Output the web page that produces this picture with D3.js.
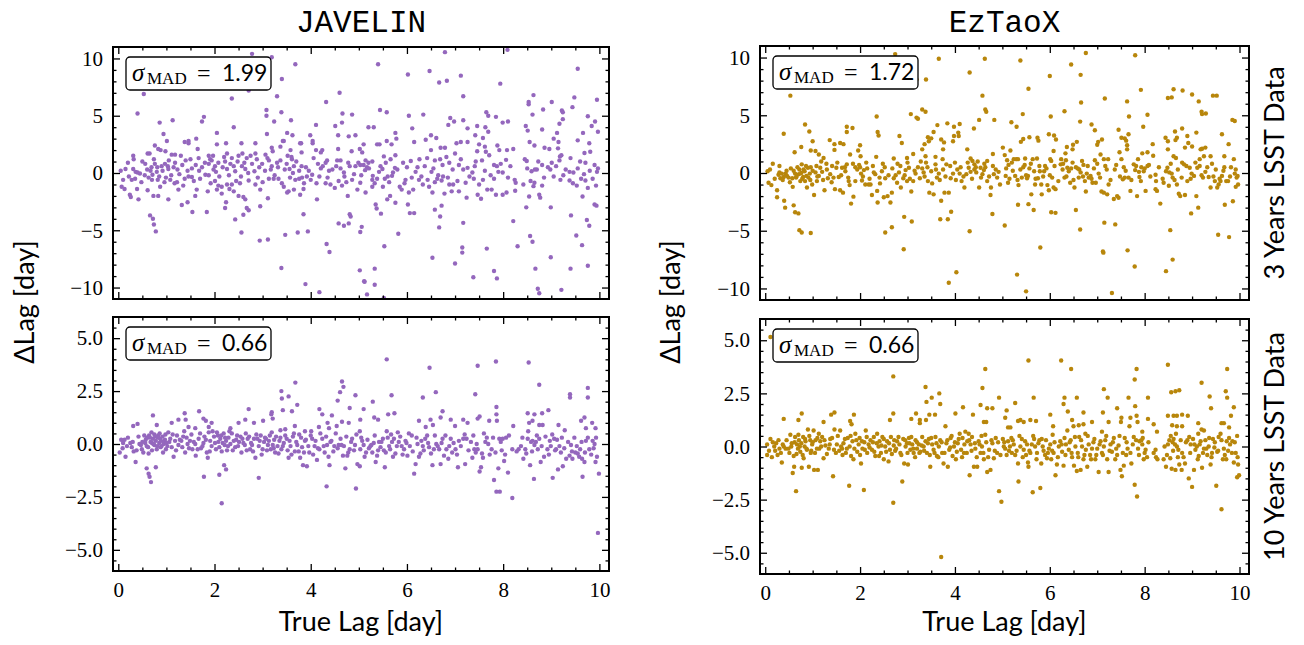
<!DOCTYPE html>
<meta charset="utf-8">
<style>
  body { margin: 0; background: #fff; }
  .tick line { stroke: #000; stroke-width: 1.3px; }
  .title { font: 31px "Liberation Mono", monospace; text-anchor: middle; }
  .label { font: 27px Lato, sans-serif; text-anchor: middle; }
</style>
<svg width="1304" height="645"></svg>
<script src="https://d3js.org/d3.v7.min.js"></script>
<script>
// methods / rows / annotations
var methods = ["JAVELIN", "EzTaoX"];
var baselines = ["3 Years LSST Data", "10 Years LSST Data"];
var sigmaJavelin = ["1.99", "0.66"];
var sigmaEztaox = ["1.72", "0.66"];
var xTicks = [0, 2, 4, 6, 8, 10];
var yTicks3 = [-10, -5, 0, 5, 10];
var yTicks10 = [-5, -2.5, 0, 2.5, 5];

// [true lag, delta lag]
var javelin3yr = [
[2.78,10.4],[3.19,10.1],[3.68,9.5],[2.71,7.2],[0.53,6.9],[3.40,8.2],[0.40,5.2],[2.36,6.5],[3.30,6.7],[3.08,5.5],[3.39,5.3],[3.08,5.0],[3.24,4.5],[3.59,4.6],[4.32,6.2],[4.60,7.0],[4.66,5.2],[4.86,5.1],[4.51,4.1],[4.65,4.4],[4.11,4.2],[0.86,4.4],[1.13,4.6],[1.78,4.9],[1.74,4.5],[2.40,4.0],[0.94,3.4],[1.01,2.8],[2.05,3.5],[1.62,3.0],[1.46,2.8],[1.38,2.7],[2.85,2.6],[3.09,3.4],[3.51,3.5],[3.62,3.3],[3.44,2.8],[3.99,3.3],[4.04,2.8],[4.93,3.3],[4.79,3.2],[4.57,3.3],[3.80,2.6],
[0.76,2.4],[0.83,2.1],[0.88,2.0],[0.65,1.7],[0.61,1.7],[0.31,1.5],[0.32,1.2],[0.98,1.9],[1.11,1.6],[1.18,1.6],[1.30,1.5],[1.46,2.6],[1.65,2.1],[1.67,1.3],[1.88,1.5],[1.97,1.5],[1.91,1.2],[2.05,2.5],[2.24,2.6],[2.26,1.7],[2.36,1.3],[2.56,2.6],[2.58,1.7],[2.50,1.5],[2.67,1.3],[2.85,1.7],[2.88,1.2],[3.19,2.2],[3.21,1.9],[3.06,1.6],[3.37,2.3],[3.42,2.8],[3.58,2.0],[3.61,1.2],[3.60,1.4],[3.78,2.6],[3.81,1.8],[4.04,2.6],[4.11,2.0],[4.24,2.0],[4.21,1.8],[4.34,1.1],[4.57,2.1],[4.55,1.1],[4.62,1.1],[4.85,1.9],[4.99,0.9],
[0.05,0.2],[0.15,0.35],[0.31,0.35],[0.40,0.05],[0.56,0.8],[0.69,0.5],[0.67,0.2],[0.76,0.8],[0.81,0.5],[0.90,0.6],[0.97,0.8],[1.03,0.6],[1.04,0.35],[1.18,0.9],[1.23,0.3],[1.40,1.1],[1.44,0.2],[1.53,0.4],[1.61,0.7],[1.74,0.5],[1.88,0.8],[1.94,1.1],[1.98,0.3],[2.01,0.6],[2.08,0.9],[2.22,1.0],[2.17,0.5],[2.26,0.35],[2.40,0.6],[2.43,0.15],[2.57,0.6],[2.64,0.35],[2.78,0.8],[2.83,0.15],[2.99,0.8],[3.13,1.1],[3.19,0.6],[3.17,0.3],[3.32,0.5],[3.37,1.1],[3.50,0.8],[3.56,0.35],[3.65,0.6],[3.76,0.2],[3.81,0.6],[3.96,0.2],[4.15,0.8],[4.21,0.4],[4.31,0.9],[4.38,0.2],[4.53,0.6],[4.69,0.05],[4.81,0.6],[4.93,0.6],
[0.07,-1.2],[0.13,-1.4],[0.28,-0.6],[0.35,-0.5],[0.45,-0.05],[0.39,-1.4],[0.63,-0.4],[0.71,-0.15],[0.82,-0.6],[0.87,-1.2],[0.96,-0.8],[1.08,-0.6],[1.17,-0.9],[1.22,-0.8],[1.38,-0.5],[1.46,-0.3],[1.53,-0.35],[1.63,-1.45],[1.81,-0.15],[1.88,-0.2],[2.01,-0.7],[2.08,-1.1],[2.15,-1.2],[2.26,-1.0],[2.31,-1.4],[2.36,-1.0],[2.53,-0.9],[2.71,-0.65],[2.85,-1.0],[2.95,-1.45],[3.13,-0.5],[3.23,-0.5],[3.33,-0.5],[3.44,-1.2],[3.54,-1.6],[3.68,-0.6],[3.76,-0.5],[3.82,-0.4],[3.92,-0.3],[4.03,-0.15],[4.12,-0.9],[4.31,-0.9],[4.41,-1.0],[4.58,-0.7],[4.65,-1.1],[4.74,-0.8],[4.86,-0.6],[4.97,-1.45],
[0.24,-1.9],[0.26,-2.1],[0.42,-2.3],[0.61,-1.5],[0.73,-2.0],[0.83,-2.0],[1.04,-2.3],[1.25,-1.45],[1.60,-2.0],[1.86,-1.6],[2.05,-1.45],[2.15,-1.8],[2.40,-1.6],[2.50,-2.0],[2.60,-2.1],[2.64,-2.3],[3.11,-2.2],[3.51,-1.7],[3.65,-1.45],[3.78,-1.9],[3.85,-1.4],[4.13,-2.3],[4.77,-2.0],
[1.32,-2.8],[1.44,-2.55],[1.54,-3.4],[1.84,-3.4],[2.22,-3.05],[2.43,-4.05],[2.24,-2.55],[2.67,-3.05],[2.71,-3.25],[2.60,-3.65],[2.95,-2.9],[2.56,-5.2],[2.94,-5.9],[3.11,-5.8],[3.47,-5.4],[3.73,-5.2],[3.94,-5.1],[3.85,-3.6],[0.66,-3.7],[0.72,-4.0],[0.74,-4.5],[0.78,-5.1],[4.33,-6.2],[4.39,-6.9],[3.39,-8.3],[3.89,-9.7],[4.18,-10.4],[4.79,-4.4],[4.81,-3.6],[4.83,-3.8],[4.58,-4.4],[4.69,-4.6],
[8.09,10.75],[6.79,10.55],[5.40,9.5],[9.55,9.1],[6.02,8.6],[6.47,8.9],[7.12,8.5],[6.67,7.9],[6.83,8.05],[7.94,7.8],[7.17,6.7],[8.63,6.8],[9.01,6.2],[9.48,6.6],[9.95,6.4],[5.44,5.5],[5.58,5.3],[6.04,5.0],[6.34,5.1],[7.65,5.3],[7.69,5.0],[7.85,4.9],[8.10,4.5],[7.99,4.4],[8.53,6.2],[8.53,6.0],[8.61,5.1],[8.83,5.55],[9.22,5.45],[9.24,5.3],[9.24,4.7],[9.17,4.3],[9.44,5.75],[9.76,4.95],[9.91,4.5],[9.84,4.1],[9.97,3.6],[9.66,3.5],[9.55,2.85],[9.79,2.6],[6.90,4.8],[6.86,4.2],[6.98,4.5],[7.17,4.6],[7.26,3.9],[7.46,4.1],[7.63,4.0],[7.69,3.6],[7.58,3.05],[7.42,3.3],[5.20,4.0],[5.31,4.0],[6.11,3.9],[6.50,3.3],[6.61,3.05],[6.39,2.9],[5.76,3.5],[5.78,3.0],[5.58,2.8],[5.68,2.5],[5.38,2.5],[5.43,2.5],[5.10,2.5],[6.15,2.7],[6.70,2.2],[6.79,2.2],[7.03,2.6],[7.12,2.7],[7.26,2.7],[7.50,2.5],[7.62,2.3],[7.88,2.4],[7.92,2.0],[8.08,2.0],[8.21,2.1],[8.47,4.1],[8.51,3.7],[8.55,2.7],[8.65,2.4],[8.81,3.8],[8.86,2.2],[8.96,2.1],[9.05,3.0],[9.12,3.5],[9.15,2.7],[9.18,1.45],[9.21,1.55],[9.14,2.15],[9.40,1.3],[9.69,1.75],[9.81,1.85],
[5.02,2.1],[5.07,1.8],[5.14,1.1],[5.03,0.7],[5.10,0.7],[5.17,0.5],[5.28,1.0],[5.13,0.25],[5.21,0.4],[5.52,1.45],[5.66,1.2],[5.56,0.9],[5.75,0.45],[5.71,0.05],[5.49,0.35],[5.42,0.1],[5.76,1.55],[5.92,0.9],[6.08,1.05],[6.22,0.5],[6.26,1.2],[6.42,1.3],[6.50,2.0],[6.58,1.1],[6.51,0.1],[6.69,1.2],[6.82,1.4],[6.88,0.9],[7.0,1.7],[7.08,0.7],[7.17,0.3],[7.26,0.45],[7.36,0.05],[7.43,1.0],[7.46,1.9],[7.56,1.1],[7.64,1.85],[7.71,1.55],[7.81,0.7],[7.87,0.6],[7.90,0.1],[7.99,0.05],[8.06,1.15],[8.45,1.2],[8.49,1.05],[8.59,0.15],[8.66,0.3],[8.73,1.0],[8.81,0.7],[9.01,0.9],[8.98,0.3],[9.17,1.1],[9.38,0.1],[9.46,0.05],[9.60,1.0],[9.71,0.9],[9.90,0.7],[9.97,0.4],
[5.03,-0.85],[5.14,-1.7],[5.29,-0.25],[5.28,-0.6],[5.28,-1.2],[5.38,-0.5],[5.50,-1.2],[5.54,-0.5],[5.63,-0.8],[5.69,-0.25],[5.65,-2.0],[5.59,-2.3],[5.76,-2.6],[5.85,-1.2],[5.89,-1.45],[5.97,-0.6],[6.04,-1.7],[6.13,-1.45],[6.25,-0.6],[6.33,-1.0],[6.43,-0.6],[6.53,-1.7],[6.58,-0.8],[6.63,-0.5],[6.72,-0.65],[6.75,-0.3],[6.78,-1.8],[6.88,-1.0],[6.93,-1.6],[6.96,-1.0],[7.08,-1.6],[7.24,-2.15],[7.22,-0.85],[7.39,-0.5],[7.47,-1.9],[7.54,-2.25],[7.58,-0.6],[7.67,-1.45],[7.76,-1.45],[7.85,-1.9],[7.81,-0.5],[7.99,-1.9],[8.07,-1.7],[8.24,-0.6],[8.26,-0.85],[8.25,-1.55],[8.42,-1.0],[8.54,-2.05],[8.48,-3.0],[8.63,-1.15],[8.65,-0.85],[8.75,-1.9],[8.77,-2.15],[8.81,-1.1],[8.99,-3.0],[9.19,-0.6],[9.38,-0.65],[9.53,-1.1],[9.62,-0.5],[9.65,-2.05],[9.76,-1.3],[9.93,-1.1],[9.90,-2.75],[9.94,-2.85],[9.71,-0.65],
[5.35,-2.75],[5.37,-3.1],[5.46,-3.55],[6.02,-2.75],[6.06,-3.5],[6.15,-3.5],[6.58,-3.2],[6.69,-3.8],[6.72,-2.85],[6.67,-4.75],[5.06,-4.7],[5.03,-5.15],[5.82,-5.3],[5.53,-6.4],[6.53,-7.4],[7.17,-4.35],[7.15,-6.5],[7.15,-6.95],[7.0,-7.9],[7.66,-6.6],[7.38,-9.1],[7.81,-8.55],[7.87,-9.2],[8.21,-4.2],[8.30,-6.4],[8.56,-5.5],[8.61,-6.0],[8.67,-8.35],[8.72,-10.1],[8.75,-10.5],[8.99,-7.35],[9.21,-10.2],[9.41,-3.7],[9.52,-5.45],[9.64,-6.3],[9.74,-4.1],[9.79,-4.6],[9.76,-8.1],[9.40,-8.35],[5.11,-9.45],[5.12,-9.5],[5.33,-8.35],[5.33,-9.75],[5.17,-10.6],[5.52,-10.9],[5.02,-8.5],
[0.1,-0.6],[0.2,0.9],[0.22,-0.3],[0.36,0.1],[0.48,-0.8],[0.5,1.0],[0.55,-0.2],[0.6,0.3],[0.7,-0.6],[0.74,1.2],[0.8,0.1],[0.85,-0.3],[0.92,0.2],[0.99,-0.4],[1.05,1.1],[1.1,-0.2],[1.15,0.5],[1.27,-0.1],[1.33,0.7],[1.35,-1.1],[1.5,1.2],[1.57,-0.7],[1.68,0.2],[1.7,-0.5],[1.8,0.9],[1.92,-0.9],[2.03,0.1],[2.1,-0.3],[2.2,1.4],[2.3,-0.2],[2.33,0.8],[2.45,-0.7],[2.48,1.0],[2.55,-0.3],[2.62,0.9],[2.7,0.0],[2.75,1.5],[2.9,-0.4],[2.93,0.5],[3.0,-0.8],[3.05,0.2],[3.1,1.3],[3.25,-0.2],[3.3,0.9],[3.4,-0.9],[3.46,0.3],[3.52,1.5],[3.57,-0.4],[3.63,0.0],[3.7,1.0],[3.86,-0.9],[3.9,0.5],[4.0,-0.6],[4.06,1.3],[4.18,-0.3],[4.25,0.6],[4.35,-0.4],[4.45,0.3],[4.5,-1.3],[4.62,0.4],[4.7,-0.3],[4.78,0.9],[4.9,-0.1],[5.05,-0.2],[5.2,0.9],[5.33,-0.9],[5.45,0.6],[5.6,-0.3],[5.8,0.3],[5.95,-0.9],[6.0,0.5],[6.1,-0.4],[6.18,0.1],[6.3,-0.3],[6.37,0.6],[6.46,-1.2],[6.55,0.4],[6.65,-0.2],[6.74,0.7],[6.85,-0.4],[6.95,0.3],[7.05,-0.7],[7.12,1.2],[7.3,-0.3],[7.41,0.6],[7.5,-1.0],[7.62,0.2],[7.74,-0.2],[7.95,0.8],[8.1,-0.4],[8.15,0.6],[8.5,0.4],[8.57,-0.7],[8.7,0.3],[8.85,-0.4],[8.93,0.5],[9.05,-0.3],[9.1,0.6],[9.25,-0.2],[9.3,0.3],[9.45,-0.9],[9.55,0.4],[9.68,-0.1],[9.8,0.2],[9.86,-0.5],[9.95,0.1]
];

var javelin10yr = [
[3.68,2.9],[3.39,2.5],[3.40,2.15],[3.54,2.25],[3.72,1.85],[3.61,1.55],[3.42,1.6],[4.65,2.95],[4.68,2.7],[4.61,2.45],[4.93,2.3],[4.56,2.05],[4.81,1.7],[4.18,1.65],[2.71,1.65],[3.19,1.5],[1.68,1.55],[1.38,1.45],[0.72,1.35],[0.40,0.95],[0.31,0.85],[0.80,0.9],[1.11,1.0],[1.25,1.15],[1.40,1.15],[1.46,0.8],[1.60,0.75],[1.77,1.2],[1.82,1.1],[1.88,0.8],[1.94,1.0],[2.33,0.75],[2.50,1.0],[2.64,1.15],[2.82,1.0],[3.01,1.1],[3.18,1.4],[3.21,1.2],[3.37,0.65],[3.47,0.7],[3.67,0.85],[3.76,0.45],[3.88,0.6],[4.01,0.6],[4.17,0.8],[4.24,1.4],[4.35,1.0],[4.38,0.75],[4.44,1.35],[4.54,0.85],[4.65,1.05],[4.79,1.0],
[0.06,0.2],[0.13,0.2],[0.09,-0.2],[0.03,-0.4],[0.15,-0.6],[0.25,0.05],[0.28,-0.15],[0.32,-0.35],[0.36,-0.85],[0.44,0],[0.49,-0.25],[0.54,0.4],[0.57,0.2],[0.59,-0.1],[0.64,0.4],[0.67,0.1],[0.63,-0.45],[0.69,0.55],[0.72,0.25],[0.75,-0.05],[0.78,0.15],[0.80,-0.25],[0.83,0.4],[0.85,0.05],[0.87,0.25],[0.90,-0.1],[0.92,0.35],[0.94,0],[0.97,0.2],[0.99,-0.25],[1.04,0.55],[1.08,0.25],[1.11,-0.15],[1.15,-0.6],[1.18,0.15],[1.22,0.4],[1.25,-0.05],[1.31,0.15],[1.35,0.35],[1.39,-0.4],[1.44,0],[1.49,0.15],[1.54,-0.25],[1.60,0],[1.61,-0.55],[1.67,0.25],[1.72,-0.2],[1.77,0.05],[1.79,0.35],[1.84,-0.4],[1.88,0.55],[1.86,-0.65],[1.91,0.15],[1.94,-0.1],[1.99,0.35],[2.03,-0.25],[2.07,0.4],[2.08,0.1],[2.12,0.25],[2.15,-0.35],[2.19,0.5],[2.21,-0.05],[2.24,0.15],[2.26,-0.3],[2.29,0.3],[2.33,0],[2.36,0.5],[2.40,0.15],[2.43,-0.15],[2.47,0.4],[2.51,0.1],[2.56,-0.4],[2.58,0.25],[2.63,-0.05],[2.65,0.5],[2.69,0.25],[2.74,-0.25],[2.78,-0.05],[2.82,0.25],[2.85,-0.65],[2.89,0.25],[2.92,-0.1],[2.96,0.4],[3.00,-0.25],[3.03,0.1],[3.07,0.25],[3.11,-0.05],[3.15,0.4],[3.17,-0.25],[3.21,-0.05],[3.24,0.2],[3.26,-0.4],[3.31,-0.1],[3.35,0.15],[3.39,-0.25],[3.44,0.05],[3.50,0.25],[3.54,-0.65],[3.58,-0.1],[3.63,0.35],[3.67,-0.35],[3.72,-0.05],[3.78,-0.65],[3.82,-0.15],[3.88,0.15],[3.92,-1.05],[3.97,-0.4],[4.03,0.25],[4.08,-0.1],[4.13,-0.75],[4.18,-0.25],[4.24,0.25],[4.29,-0.4],[4.34,-0.05],[4.39,-1.0],[4.43,0.15],[4.49,-0.1],[4.58,-0.05],[4.64,-0.05],[4.69,-0.1],[4.72,-1.15],[4.76,-0.55],[4.81,-0.25],[4.86,0.25],[4.92,-0.05],[4.97,-0.95],
[0.70,0.05],[0.82,0.3],[0.88,-0.15],[0.95,0.1],[0.60,0.3],[0.75,0.45],[1.00,0.05],[0.50,0.1],
[0.59,-1.15],[0.63,-1.4],[0.65,-1.55],[0.68,-1.8],[0.78,-1.1],[1.78,-1.55],[2.10,-1.45],[2.15,-2.8],[2.20,-1.0],[2.24,-1.2],[2.92,-1.6],[3.84,-1.0],[4.33,-2.0],[4.94,-2.1],
[5.58,4.0],[6.47,3.6],[7.47,3.7],[7.85,3.9],[8.53,3.85],[8.75,2.8],[5.68,2.3],[6.33,2.2],[6.60,2.45],[7.42,2.35],[7.86,1.75],[9.39,2.35],[9.39,2.2],[9.76,2.65],[9.76,2.2],[5.29,2.0],[5.10,1.65],[5.03,1.15],[5.32,1.25],[5.40,1.15],[5.61,1.4],[5.74,1.45],[6.25,1.1],[6.49,1.15],[6.54,0.9],[6.39,0.8],[6.74,1.55],[6.70,1.25],[6.91,1.15],[7.0,0.85],[7.17,1.15],[7.26,1.0],[7.47,1.2],[7.51,1.3],[7.71,1.1],[7.86,1.4],[7.87,1.1],[8.21,0.85],[8.51,1.45],[8.65,1.4],[8.54,1.0],[8.61,1.1],[8.75,0.9],[8.81,1.45],[8.94,1.6],[8.82,0.9],[9.15,0.9],[9.28,0.65],[9.62,1.1],[9.69,1.25],[9.85,1.0],[9.72,0.75],[9.92,0.75],
[5.02,0.6],[5.07,0.15],[5.03,-0.25],[5.10,-0.05],[5.15,-0.4],[5.02,-1.05],[5.21,-0.2],[5.24,-0.1],[5.28,-0.4],[5.31,0.05],[5.35,-0.85],[5.38,-0.55],[5.42,0.1],[5.45,-0.15],[5.50,0.25],[5.52,-0.3],[5.54,-1.1],[5.60,0.3],[5.63,-0.1],[5.67,0.45],[5.69,0.1],[5.73,0.25],[5.76,-0.45],[5.81,0.55],[5.83,0.1],[5.89,-0.1],[5.94,-0.25],[5.97,0.15],[6.01,-0.55],[6.06,-0.1],[6.10,0.4],[6.15,-1.4],[6.18,-0.95],[6.22,0],[6.28,-0.45],[6.33,-0.1],[6.38,0.25],[6.42,0.4],[6.46,-0.15],[6.53,-1.0],[6.56,-0.25],[6.61,0],[6.67,-0.25],[6.70,-0.95],[6.74,0.25],[6.77,-0.55],[6.82,-0.25],[6.86,-0.7],[6.91,0.25],[6.94,-0.4],[7.01,-0.25],[7.06,-1.1],[7.08,0.15],[7.17,0.25],[7.21,-0.95],[7.24,0.25],[7.33,0.1],[7.36,-0.65],[7.40,-0.25],[7.43,-0.4],[7.47,-0.25],[7.51,-1.3],[7.54,-1.1],[7.58,-0.65],[7.63,0.1],[7.66,0.3],[7.69,0],[7.76,-0.25],[7.81,-1.7],[7.86,-2.25],[7.93,-2.25],[7.90,-1.15],[7.92,0.25],[7.95,0.1],[7.99,0.25],[8.02,-0.8],[8.06,0.3],[8.10,-1.35],[8.19,-2.55],[8.28,-0.35],[8.32,-0.25],[8.37,-0.1],[8.42,-0.7],[8.46,-0.25],[8.51,0.25],[8.56,-1.0],[8.58,0.1],[8.61,0.15],[8.64,-1.65],[8.65,-0.05],[8.68,0.1],[8.72,-0.25],[8.75,0.25],[8.78,-0.85],[8.85,-0.6],[8.92,-0.25],[8.97,0.15],[8.99,-0.1],[9.03,-1.6],[9.06,0.25],[9.10,-0.25],[9.14,-1.2],[9.17,-0.1],[9.20,-0.4],[9.24,-1.05],[9.31,-0.7],[9.38,-0.55],[9.41,-0.05],[9.44,-0.7],[9.50,-0.4],[9.55,-0.45],[9.60,-0.25],[9.64,-0.7],[9.65,-1.55],[9.69,-0.85],[9.72,0.15],[9.79,-0.25],[9.86,0.15],[9.90,0],[9.92,-0.85],[9.95,-0.6],[9.99,-1.4],[9.97,-4.2],[8.19,-0.25],
[0.1,0.05],[0.18,-0.1],[0.2,0.3],[0.3,0.1],[0.38,-0.3],[0.42,0.35],[0.47,-0.05],[0.52,-0.4],[0.56,0.05],[0.62,-0.15],[0.66,0.3],[0.7,-0.3],[0.73,0.0],[0.77,0.35],[0.81,-0.1],[0.86,0.5],[0.89,0.15],[0.93,-0.4],[0.98,0.45],[1.02,-0.1],[1.06,0.1],[1.13,0.45],[1.2,-0.3],[1.28,0.2],[1.33,-0.15],[1.37,0.6],[1.42,0.3],[1.47,-0.2],[1.52,0.45],[1.57,0.1],[1.65,-0.25],[1.7,0.5],[1.75,-0.1],[1.82,0.2],[1.9,-0.35],[1.96,0.6],[2.01,0.05],[2.05,0.55],[2.1,-0.15],[2.14,0.4],[2.17,0.05],[2.22,0.3],[2.28,-0.1],[2.31,0.6],[2.38,-0.3],[2.45,0.2],[2.49,-0.1],[2.54,0.35],[2.6,0.05],[2.67,-0.3],[2.72,0.35],[2.76,0.05],[2.8,-0.35],[2.87,0.45],[2.94,0.15],[2.98,-0.5],[3.05,0.3],[3.09,-0.3],[3.13,0.15],[3.19,0.55],[3.23,-0.2],[3.28,0.35],[3.33,-0.45],[3.37,0.3],[3.42,-0.1],[3.47,0.4],[3.52,-0.3],[3.56,0.15],[3.6,-0.5],[3.65,0.5],[3.7,0.1],[3.75,-0.35],[3.8,0.3],[3.86,-0.4],[3.9,0.2],[3.95,-0.1],[4.0,0.4],[4.05,-0.5],[4.1,0.15],[4.15,-0.2],[4.2,0.5],[4.27,-0.1],[4.32,0.35],[4.37,-0.6],[4.41,0.1],[4.47,-0.35],[4.52,0.5],[4.56,-0.2],[4.62,0.25],[4.67,-0.55],[4.74,0.35],[4.78,-0.4],[4.84,0.1],[4.9,-0.3],[4.95,0.45],
[5.05,0.3],[5.12,-0.6],[5.18,0.2],[5.26,-0.05],[5.33,0.4],[5.4,-0.3],[5.47,0.1],[5.56,-0.4],[5.58,0.6],[5.65,-0.25],[5.71,-0.6],[5.79,-0.1],[5.86,0.35],[5.91,-0.5],[5.99,0.05],[6.04,0.5],[6.12,-0.35],[6.2,0.3],[6.25,-0.6],[6.3,0.15],[6.35,-0.3],[6.44,0.05],[6.5,-0.45],[6.58,0.4],[6.64,-0.1],[6.72,0.05],[6.8,0.4],[6.88,-0.1],[6.97,0.05],[7.04,-0.5],[7.12,-0.1],[7.2,0.45],[7.28,-0.3],[7.38,0.4],[7.45,0.0],[7.56,-0.45],[7.6,0.5],[7.72,-0.5],[7.79,0.3],[7.84,-0.4],[7.97,-0.3],[8.04,-0.5],[8.12,0.4],[8.4,0.3],[8.48,-0.45],[8.52,0.6],[8.6,-0.35],[8.7,0.4],[8.8,-0.1],[8.88,0.35],[8.95,-0.5],[9.02,0.45],[9.08,-0.3],[9.12,0.2],[9.22,0.3],[9.27,-0.2],[9.35,0.1],[9.43,-0.35],[9.48,0.3],[9.53,-0.1],[9.58,-0.6],[9.63,0.1],[9.7,-0.4],[9.76,0.3],[9.83,-0.5],[9.88,-0.2],[9.93,0.3]
];

var eztaox3yr = [
[2.74,10.3],[3.66,9.9],[4.63,9.9],[4.31,8.7],[3.19,8.1],[3.39,8.1],[0.53,6.7],[4.58,6.7],[4.64,5.5],[4.66,5.3],[3.31,5.5],[3.38,5.3],[3.07,5.1],[3.19,4.8],[3.22,4.7],[2.35,4.9],[4.83,4.6],[4.51,4.6],[3.84,4.3],[4.10,4.25],[3.63,4.15],[3.98,4.0],[4.07,3.5],[4.08,3.2],[4.40,3.85],[0.84,4.2],[0.93,3.6],[0.39,3.4],[0.76,2.25],[1.0,2.75],[0.62,1.8],[0.96,1.95],[1.06,1.9],[1.13,1.6],[1.23,1.3],[1.36,2.85],[1.46,2.5],[1.46,2.0],[1.58,2.6],[1.65,2.5],[1.72,4.0],[1.72,3.55],[1.84,3.9],[2.0,2.4],[1.96,1.95],[2.01,1.45],[1.79,1.6],[2.37,3.55],[2.39,3.25],[2.34,1.4],[2.48,0.8],[2.71,1.25],[2.79,0.8],[2.83,3.2],[2.88,2.6],[2.99,1.3],[3.12,1.65],[3.31,2.05],[3.36,2.5],[3.45,2.75],[3.43,3.1],[3.50,3.0],[3.55,3.55],[3.71,2.9],[3.77,2.65],[3.38,1.45],[3.59,1.4],[3.75,2.05],[3.98,3.2],[3.96,2.75],[4.26,2.05],[4.33,1.25],[4.48,1.0],[4.41,0.75],[4.80,1.65],[4.68,1.05],
[0.05,0.15],[0.07,-0.85],[0.13,-1.05],[0.16,0.8],[0.25,-1.5],[0.25,-2.1],[0.28,-0.15],[0.30,0.05],[0.32,-0.45],[0.35,-0.05],[0.39,-0.35],[0.40,-2.4],[0.43,-0.05],[0.46,-0.25],[0.49,-0.4],[0.54,0.4],[0.57,-0.45],[0.58,-1.2],[0.63,-0.05],[0.65,-0.4],[0.68,0.5],[0.71,-0.1],[0.74,-0.7],[0.76,0],[0.77,0.75],[0.80,-0.35],[0.81,0.3],[0.83,0.15],[0.84,-0.7],[0.87,-0.25],[0.88,-1.25],[0.90,0.45],[0.91,-0.4],[0.94,-0.05],[0.96,0.5],[0.99,-1.0],[1.03,-1.9],[1.06,0.05],[1.08,0.6],[1.09,-0.7],[1.13,-0.25],[1.16,0.45],[1.20,0.1],[1.25,-1.5],[1.29,0.8],[1.32,-0.45],[1.37,-0.1],[1.41,0.6],[1.44,-0.4],[1.47,-1.4],[1.50,0.45],[1.55,-0.35],[1.58,-1.5],[1.62,0.45],[1.64,-1.7],[1.69,0.15],[1.72,0.75],[1.76,-0.7],[1.78,-1.05],[1.81,-2.65],[1.85,0.8],[1.86,-2.05],[1.90,0.5],[1.94,0.3],[1.98,0.7],[2.02,-0.05],[2.04,-0.65],[2.08,0.25],[2.11,-1.0],[2.15,0.4],[2.18,-1.0],[2.22,-1.0],[2.25,-1.9],[2.29,0.05],[2.32,-0.1],[2.36,-1.55],[2.37,-2.55],[2.41,-0.4],[2.46,0.15],[2.50,-2.1],[2.53,-0.45],[2.58,-2.0],[2.64,-2.55],[2.67,-1.7],[2.71,-0.45],[2.78,-0.85],[2.82,0.05],[2.86,-1.25],[2.91,-0.45],[2.96,0.25],[2.99,-0.7],[3.03,0.45],[3.08,-1.6],[3.12,-0.7],[3.17,-0.05],[3.22,0.5],[3.26,-0.45],[3.31,0.4],[3.34,0.05],[3.39,0.9],[3.43,-0.7],[3.46,-1.7],[3.50,0.15],[3.55,-1.85],[3.59,0.75],[3.62,-0.4],[3.66,-0.05],[3.71,-2.4],[3.75,0.3],[3.78,-1.7],[3.82,0.75],[3.87,-1.7],[3.91,-0.45],[3.96,-0.05],[4.0,0.9],[4.05,0.3],[4.10,-0.05],[4.14,-0.7],[4.20,-1.25],[4.24,-0.1],[4.29,0.45],[4.33,0.1],[4.37,1.05],[4.41,0.3],[4.45,0.05],[4.51,-1.25],[4.54,0.45],[4.58,-0.1],[4.61,0.25],[4.64,0.5],[4.68,-0.7],[4.75,-1.9],[4.76,-1.25],[4.82,-0.1],[4.86,0.3],[4.89,-0.4],[4.95,-1.0],
[0.42,-3.0],[0.60,-2.8],[0.63,-3.4],[0.70,-3.5],[0.72,-4.95],[0.77,-5.15],[0.96,-5.2],[2.53,-5.15],[2.67,-4.7],[2.93,-3.8],[3.09,-4.2],[2.92,-6.6],[3.69,-4.0],[3.85,-4.0],[3.92,-3.35],[3.87,-9.5],[4.03,-8.6],[4.31,-5.05],[4.79,-3.55],
[6.76,10.4],[7.80,10.2],[5.38,9.75],[6.45,9.4],[6.0,8.4],[6.65,8.5],[5.55,7.3],[7.92,7.2],[7.16,6.45],[8.61,7.25],[8.49,6.5],[8.57,6.55],[8.80,7.15],[9.0,6.8],[9.14,6.2],[9.44,6.7],[9.52,6.7],[6.66,6.1],[6.31,5.35],[5.43,5.1],[6.02,4.9],[7.67,4.9],[7.63,6.2],[9.2,5.3],[9.21,5.1],[9.29,5.15],[9.85,4.6],[9.9,4.5],[5.19,4.4],[5.30,4.0],[6.64,4.45],[6.88,4.2],[6.95,3.7],[7.45,3.75],[7.66,3.35],[7.97,4.0],[8.06,5.05],[8.64,3.6],[8.79,3.85],[8.90,3.2],[9.09,3.5],[9.63,3.35],[5.44,2.95],[5.39,2.7],[5.57,3.1],[5.74,3.05],[5.76,2.8],[5.98,3.35],[6.09,3.25],[6.13,2.9],[6.08,1.9],[6.33,1.7],[6.36,2.25],[6.49,2.45],[6.57,2.7],[6.48,2.05],[7.02,2.7],[7.0,2.45],[7.10,2.9],[7.07,1.6],[7.51,3.05],[7.61,2.8],[7.58,3.0],[7.63,2.4],[7.47,1.8],[7.63,2.05],[7.95,1.7],[8.06,1.8],[8.17,2.5],[8.18,1.5],[8.44,3.05],[8.49,2.75],[8.49,2.05],[8.65,2.85],[8.68,3.05],[8.85,2.2],[8.92,2.6],[9.0,2.3],[9.18,2.05],[9.21,2.1],[9.28,2.2],[9.25,1.45],[9.16,1.2],[9.39,1.45],[9.68,1.45],[9.77,2.5],[9.88,1.2],
[5.01,2.2],[5.05,1.55],[5.10,1.1],[5.17,1.95],[5.13,0.7],[5.07,-0.25],[5.12,-0.85],[5.20,0.9],[5.24,1.2],[5.27,-0.25],[5.29,1.2],[5.33,1.2],[5.34,-1.05],[5.38,0.3],[5.41,-0.4],[5.47,0.7],[5.48,1.25],[5.52,-0.45],[5.54,-0.25],[5.57,0.4],[5.61,-1.85],[5.64,1.2],[5.67,0.15],[5.69,-1.0],[5.73,1.25],[5.75,-0.45],[5.79,0.15],[5.82,-1.0],[5.83,-1.85],[5.88,0.15],[5.90,0.6],[5.95,-1.05],[5.98,-1.5],[6.01,1.2],[6.03,1.05],[6.05,-0.4],[6.08,-1.25],[6.12,-1.4],[6.23,0.75],[6.24,1.2],[6.27,0.3],[6.31,-0.4],[6.34,1.1],[6.37,0.45],[6.40,0.15],[6.43,-0.85],[6.48,0.9],[6.52,-1.25],[6.55,0.5],[6.59,0.4],[6.61,-0.4],[6.65,0.05],[6.68,1.05],[6.71,0.7],[6.74,-0.7],[6.76,-1.6],[6.78,-0.05],[6.82,-0.4],[6.86,-0.25],[6.90,-0.85],[6.95,1.1],[6.97,-0.85],[7.03,-0.05],[7.09,-1.6],[7.14,-1.7],[7.14,1.2],[7.17,0.6],[7.21,-1.85],[7.24,-1.0],[7.23,1.2],[7.35,-2.25],[7.37,0.3],[7.42,-2.0],[7.45,-2.15],[7.51,1.2],[7.54,-0.55],[7.56,0.5],[7.58,-0.4],[7.66,-0.4],[7.70,-1.55],[7.77,0.75],[7.80,0.25],[7.84,-2.0],[7.86,1.2],[7.88,0.1],[7.89,-0.35],[7.93,0.5],[7.98,0.15],[8.02,-1.55],[8.06,0.6],[8.09,0.7],[8.23,-0.15],[8.24,-0.7],[8.23,-1.4],[8.26,-1.55],[8.33,-2.65],[8.40,-0.85],[8.45,0.15],[8.48,0.45],[8.52,0.05],[8.51,-1.1],[8.57,-0.05],[8.59,-0.4],[8.61,1.45],[8.66,1.3],[8.68,-1.0],[8.72,-1.8],[8.75,-2.0],[8.79,0.9],[8.83,0.75],[8.85,-1.9],[8.90,-0.7],[8.95,0.45],[8.99,-0.05],[9.04,-0.25],[9.09,-2.0],[9.13,-3.0],[9.11,0.45],[9.16,0.6],[9.23,-0.4],[9.28,0.1],[9.35,-0.35],[9.39,-1.25],[9.42,0.8],[9.48,-0.7],[9.53,-1.25],[9.56,-1.0],[9.60,-0.7],[9.63,-0.25],[9.68,0.5],[9.72,-0.7],[9.69,-2.75],[9.76,-0.7],[9.82,0.5],[9.86,-2.45],[9.90,-0.05],[9.94,-0.4],[9.96,-0.25],[9.97,-1.0],[9.92,-1.2],
[5.33,-2.75],[5.55,-2.7],[5.66,-3.2],[6.03,-3.4],[6.12,-3.45],[6.55,-3.2],[5.05,-4.55],[6.64,-4.9],[7.15,-4.3],[7.38,-4.45],[5.8,-6.45],[7.12,-6.8],[7.13,-6.9],[7.64,-6.7],[7.79,-8.1],[5.31,-8.8],[5.5,-10.25],[7.31,-10.4],[8.45,-8.5],[8.59,-7.5],[8.54,-4.95],[8.98,-3.5],[9.55,-5.35],[9.78,-5.55],
[0.1,0.3],[0.2,-0.5],[0.3,0.6],[0.37,-0.6],[0.45,0.2],[0.52,-0.8],[0.6,0.2],[0.66,-0.3],[0.72,0.3],[0.78,-0.5],[0.86,0.6],[0.95,-0.6],[1.0,0.2],[1.1,-0.3],[1.18,1.0],[1.22,-0.6],[1.3,0.3],[1.4,-0.8],[1.52,0.9],[1.6,-0.2],[1.68,0.5],[1.75,-0.4],[1.9,-0.7],[2.0,0.5],[2.06,-0.3],[2.13,0.9],[2.2,-0.5],[2.27,0.6],[2.42,-0.9],[2.52,0.5],[2.6,-0.2],[2.68,0.4],[2.75,-0.2],[2.85,0.6],[2.94,-0.2],[3.0,0.9],[3.05,-0.5],[3.15,0.2],[3.28,1.0],[3.36,-0.3],[3.42,0.5],[3.52,-0.9],[3.6,0.3],[3.68,-0.6],[3.74,1.2],[3.8,-0.3],[3.9,0.6],[4.02,-0.6],[4.12,0.5],[4.18,-0.3],[4.27,0.9],[4.36,-0.5],[4.44,0.5],[4.55,-0.4],[4.62,0.8],[4.72,-0.3],[4.8,0.6],[4.92,0.1],
[5.08,0.4],[5.15,-0.5],[5.22,0.2],[5.32,-0.6],[5.44,0.5],[5.5,-0.2],[5.6,0.8],[5.7,-0.5],[5.78,0.6],[5.86,-0.3],[5.93,0.4],[6.0,-0.2],[6.1,0.6],[6.18,-0.7],[6.28,0.8],[6.35,-0.3],[6.45,0.4],[6.5,-0.6],[6.62,0.3],[6.7,-0.3],[6.8,0.6],[6.88,-0.5],[6.93,0.4],[7.0,0.8],[7.06,-0.4],[7.2,0.3],[7.28,-0.6],[7.4,0.7],[7.48,-0.3],[7.6,0.2],[7.72,-0.6],[7.82,0.6],[7.92,-0.7],[8.0,0.4],[8.12,-0.3],[8.3,0.5],[8.38,-0.5],[8.55,0.8],[8.63,-0.6],[8.7,0.3],[8.78,-0.4],[8.88,0.6],[8.97,-0.5],[9.07,0.9],[9.2,-0.2],[9.32,0.5],[9.45,-0.3],[9.5,0.3],[9.58,-0.5],[9.66,0.2],[9.8,-0.3],[9.92,0.3]
];

var eztaox10yr = [
[0.11,5.15],[2.70,3.3],[4.64,3.65],[4.58,2.75],[4.93,2.3],[3.38,2.8],[3.40,2.1],[3.67,2.5],[3.51,2.3],[3.69,2.0],[3.18,1.55],[3.08,1.3],[3.26,1.25],[3.39,1.25],[3.46,1.5],[3.58,1.5],[3.26,1.1],[2.70,1.55],[2.63,1.25],[1.87,1.5],[1.79,1.2],[1.82,1.05],[1.46,1.6],[1.39,1.5],[1.23,1.15],[0.77,1.55],[0.70,1.25],[0.39,1.3],[4.01,1.55],[4.17,1.85],[4.38,1.5],[4.54,1.95],[4.68,1.8],[4.79,1.8],[4.61,1.15],[4.66,1.15],
[0.04,0.1],[0.04,-0.4],[0.11,0.35],[0.14,-0.5],[0.19,0],[0.23,0.15],[0.26,-0.4],[0.30,-0.1],[0.35,-0.75],[0.39,0],[0.43,-0.1],[0.49,-0.1],[0.53,0.55],[0.56,0.15],[0.60,-0.45],[0.58,-1.25],[0.61,-0.95],[0.63,0.45],[0.65,-2.1],[0.67,0.1],[0.69,-0.1],[0.71,0.3],[0.74,-0.25],[0.76,0.15],[0.77,-1.0],[0.80,0.45],[0.81,-0.55],[0.83,0],[0.85,0.25],[0.88,-0.15],[0.90,0.8],[0.92,-0.95],[0.95,0.3],[0.96,-0.3],[0.99,0.1],[1.02,0.75],[1.03,-1.1],[1.06,0.3],[1.09,-0.1],[1.11,-1.1],[1.13,0.6],[1.16,0.25],[1.20,0.45],[1.23,-0.55],[1.27,0.05],[1.34,-0.1],[1.37,0.35],[1.43,-1.4],[1.46,0.8],[1.49,-0.3],[1.51,0.1],[1.56,-0.2],[1.58,0.75],[1.62,-0.1],[1.65,0.15],[1.70,-0.3],[1.74,0.4],[1.77,-1.85],[1.78,0],[1.81,-0.45],[1.84,0.25],[1.86,-0.6],[1.90,0.6],[1.94,-0.25],[1.97,0.1],[1.99,0.4],[2.02,-0.8],[2.05,-0.1],[2.08,-2.05],[2.09,0.2],[2.12,0.75],[2.15,-0.3],[2.18,0.1],[2.22,0.3],[2.25,-0.15],[2.29,0.45],[2.32,-0.45],[2.36,0.6],[2.39,0],[2.41,0.25],[2.44,-0.3],[2.47,0.45],[2.50,-0.6],[2.53,0],[2.57,0.25],[2.60,-0.7],[2.63,-0.15],[2.65,0.45],[2.70,-2.65],[2.71,0.05],[2.74,-0.2],[2.78,0.25],[2.81,0.45],[2.85,-0.3],[2.89,-1.65],[2.91,0.35],[2.93,-0.8],[2.96,0],[2.99,0.15],[3.01,-0.85],[3.03,0.4],[3.06,-0.15],[3.10,0.1],[3.13,-0.3],[3.17,0.3],[3.20,-0.1],[3.24,0.1],[3.27,-0.25],[3.31,0.45],[3.34,0],[3.38,0.25],[3.41,-0.3],[3.45,0.35],[3.48,-0.95],[3.52,0.1],[3.55,-0.15],[3.59,0.45],[3.62,-0.45],[3.66,0],[3.69,0.3],[3.71,-5.2],[3.73,-0.3],[3.76,-0.8],[3.80,0.95],[3.82,0.15],[3.85,-0.95],[3.88,-0.15],[3.91,0.4],[3.95,-0.45],[3.98,0],[4.02,-0.6],[4.06,0.15],[4.10,0.6],[4.13,-0.15],[4.16,0.4],[4.19,-0.3],[4.22,0.7],[4.26,0.25],[4.29,0.6],[4.31,-1.35],[4.33,0.1],[4.36,0.45],[4.40,-0.95],[4.43,-0.1],[4.47,-0.95],[4.50,0.25],[4.54,-0.3],[4.57,0],[4.61,-0.6],[4.64,0.55],[4.68,-1.2],[4.72,-0.15],[4.75,-1.1],[4.79,0.15],[4.82,-0.55],[4.86,0.4],[4.89,-0.3],[4.93,-2.1],[4.98,-2.6],
[5.55,4.05],[6.24,4.05],[6.45,3.65],[7.83,3.65],[7.79,3.15],[8.49,3.85],[9.74,3.65],[5.66,2.3],[6.31,2.3],[6.29,2.0],[6.57,2.3],[7.14,2.7],[7.22,2.3],[7.66,2.3],[8.07,2.3],[8.56,2.55],[8.65,2.6],[8.73,2.65],[9.20,3.0],[9.37,2.35],[9.40,1.8],[9.71,2.6],[9.74,2.3],[9.88,1.85],[5.27,2.05],[5.09,1.7],[5.12,0.9],[5.17,0.9],[5.06,1.35],[5.33,1.2],[5.38,1.25],[5.45,1.15],[5.59,1.25],[5.71,1.2],[6.01,1.5],[6.07,0.95],[6.38,1.65],[6.47,1.25],[6.50,0.95],[6.61,1.0],[6.71,1.6],[6.71,1.05],[6.89,1.15],[7.12,1.6],[7.10,0.7],[7.24,1.15],[7.42,1.8],[7.51,1.35],[7.50,1.15],[7.70,1.35],[7.80,1.9],[7.83,1.45],[7.85,1.15],[7.95,0.7],[8.07,1.3],[8.19,1.05],[8.26,0.7],[8.49,1.45],[8.61,1.45],[8.68,1.45],[8.79,1.5],[8.91,1.45],[8.58,1.0],[8.68,0.95],[8.79,0.95],[9.13,1.1],[9.20,0.8],[9.25,0.75],[9.62,1.1],[9.67,1.1],[9.78,0.9],[9.82,1.45],[9.95,0.5],
[5.01,0.35],[5.03,0],[5.06,-0.1],[5.12,0.25],[5.14,-0.2],[5.19,0.4],[5.20,-0.3],[5.24,0.1],[5.27,-0.4],[5.33,-0.8],[5.34,-1.65],[5.38,0],[5.41,0.35],[5.45,-0.15],[5.48,0.25],[5.50,-0.4],[5.54,-0.75],[5.55,-0.95],[5.59,-0.3],[5.62,0.1],[5.64,-2.15],[5.67,0.35],[5.69,0],[5.73,-0.3],[5.76,0.15],[5.80,-1.95],[5.82,-0.8],[5.83,0.35],[5.87,-0.2],[5.90,-0.4],[5.94,-0.55],[5.98,-0.1],[6.01,0.1],[6.03,-0.6],[6.06,0.55],[6.08,-0.3],[6.12,-1.35],[6.15,-0.85],[6.19,0],[6.22,0.25],[6.26,-0.25],[6.29,-0.9],[6.31,0.4],[6.34,0.1],[6.37,0.75],[6.40,-0.15],[6.44,0.3],[6.47,-0.5],[6.51,-0.9],[6.54,0],[6.57,-1.15],[6.59,-0.3],[6.62,0.45],[6.65,-1.1],[6.68,0],[6.71,-0.6],[6.75,0.6],[6.76,-0.15],[6.79,-0.95],[6.82,0.1],[6.85,-0.4],[6.89,-0.1],[6.92,0.2],[6.96,-0.6],[7.0,-0.1],[7.03,-1.2],[7.07,0.25],[7.10,-0.3],[7.14,0],[7.17,0.3],[7.21,-0.6],[7.24,-1.2],[7.28,0.1],[7.31,-0.25],[7.35,0.4],[7.38,-0.6],[7.42,-0.4],[7.45,0.05],[7.49,-1.1],[7.52,-1.4],[7.56,-0.9],[7.58,0.4],[7.61,-0.4],[7.64,-0.1],[7.68,0.95],[7.72,-0.8],[7.77,0.45],[7.79,-1.8],[7.84,-2.35],[7.82,0.3],[7.86,-0.1],[7.89,0.25],[7.93,0.3],[7.96,0.4],[7.98,-0.6],[8.02,-0.15],[8.05,-0.5],[8.19,-0.3],[8.23,-0.15],[8.24,-0.5],[8.27,-0.6],[8.40,-0.6],[8.45,-0.95],[8.49,0.1],[8.52,0.3],[8.54,-0.55],[8.57,-1.05],[8.59,0.2],[8.61,0.35],[8.64,0.1],[8.65,-1.1],[8.68,0],[8.71,-0.15],[8.73,-0.85],[8.78,-1.1],[8.79,-0.3],[8.85,-0.8],[8.87,0.2],[8.93,-1.5],[8.94,0.45],[8.97,0.1],[9.0,-1.9],[9.02,0.35],[9.04,-1.1],[9.07,-0.15],[9.10,0],[9.13,0.6],[9.14,-0.45],[9.18,0.25],[9.21,-1.0],[9.25,-0.1],[9.28,0.3],[9.32,-0.4],[9.35,0],[9.39,-0.85],[9.41,-0.5],[9.44,0.35],[9.47,-0.05],[9.51,-1.85],[9.53,-0.25],[9.56,0.45],[9.60,0.6],[9.62,-2.95],[9.65,-0.6],[9.69,-0.4],[9.73,0.25],[9.76,-0.2],[9.80,0.1],[9.85,0.25],[9.88,-0.75],[9.92,-0.3],[9.95,-1.45],[9.97,-0.85],[9.99,-1.35],
[0.08,-0.2],[0.16,0.2],[0.21,-0.2],[0.28,0.3],[0.33,-0.3],[0.37,0.1],[0.45,0.3],[0.51,-0.3],[0.55,0.0],[0.62,0.2],[0.66,-0.35],[0.7,0.55],[0.73,0.0],[0.79,-0.4],[0.84,0.35],[0.87,-0.1],[0.93,0.5],[0.97,-0.2],[1.0,0.2],[1.05,-0.3],[1.1,0.4],[1.14,-0.1],[1.18,0.0],[1.25,0.3],[1.3,-0.35],[1.36,0.1],[1.41,0.4],[1.45,-0.15],[1.53,0.5],[1.6,0.0],[1.63,-0.4],[1.68,0.35],[1.72,-0.1],[1.8,0.5],[1.88,-0.1],[1.92,0.3],[2.0,-0.4],[2.04,0.25],[2.1,-0.15],[2.14,0.45],[2.2,-0.05],[2.27,0.2],[2.3,-0.25],[2.35,0.15],[2.4,-0.45],[2.45,0.05],[2.5,0.35],[2.55,-0.25],[2.61,0.15],[2.67,-0.35],[2.72,0.3],[2.76,-0.1],[2.83,0.1],[2.87,-0.4],[2.95,0.3],[3.0,-0.3],[3.04,0.15],[3.08,0.45],[3.12,-0.1],[3.16,-0.5],[3.2,0.2],[3.25,-0.3],[3.3,0.05],[3.35,-0.2],[3.43,0.15],[3.47,-0.4],[3.5,0.4],[3.57,-0.3],[3.61,0.15],[3.65,-0.5],[3.72,0.2],[3.78,-0.3],[3.84,0.3],[3.9,-0.05],[3.93,0.5],[4.0,0.2],[4.04,-0.25],[4.08,0.35],[4.15,-0.5],[4.2,0.1],[4.25,-0.3],[4.3,0.3],[4.35,-0.2],[4.42,0.15],[4.46,-0.5],[4.52,0.1],[4.56,0.5],[4.6,-0.3],[4.66,0.2],[4.7,-0.5],[4.77,0.3],[4.84,-0.2],[4.91,0.2],[4.96,-0.4],
[5.04,0.2],[5.09,-0.4],[5.16,0.0],[5.22,0.3],[5.3,-0.2],[5.36,0.5],[5.43,-0.5],[5.52,0.1],[5.57,-0.2],[5.65,0.5],[5.72,-0.6],[5.78,0.3],[5.85,0.0],[5.92,0.3],[5.96,-0.3],[6.05,-0.2],[6.1,0.2],[6.17,-0.5],[6.25,0.1],[6.33,-0.4],[6.42,0.2],[6.46,-0.3],[6.53,0.45],[6.6,-0.5],[6.66,0.3],[6.73,-0.4],[6.8,0.5],[6.87,-0.6],[6.94,0.35],[6.98,-0.4],[7.05,0.1],[7.12,-0.4],[7.19,0.5],[7.26,-0.2],[7.33,0.2],[7.4,-0.1],[7.47,0.5],[7.54,-0.3],[7.62,0.2],[7.7,-0.3],[7.75,0.1],[7.88,-0.4],[7.95,0.1],[8.0,-0.3],[8.08,0.2],[8.42,0.0],[8.47,-0.4],[8.55,0.5],[8.6,-0.2],[8.66,0.6],[8.7,-0.5],[8.76,0.3],[8.82,-0.5],[8.9,0.3],[8.96,-0.3],[9.05,0.1],[9.12,-0.6],[9.16,0.1],[9.23,-0.3],[9.3,-0.1],[9.36,0.4],[9.42,-0.3],[9.48,0.2],[9.55,-0.2],[9.62,0.3],[9.67,-0.1],[9.72,-0.6],[9.78,0.4],[9.84,-0.3],[9.9,0.2],[9.96,-0.5]
];

var purple = "#9467bd", gold = "#b8860b";

var panels = [
  {data: javelin3yr,  col: 0, row: 0, color: purple, sigma: sigmaJavelin[0]},
  {data: javelin10yr, col: 0, row: 1, color: purple, sigma: sigmaJavelin[1]},
  {data: eztaox3yr,   col: 1, row: 0, color: gold,   sigma: sigmaEztaox[0]},
  {data: eztaox10yr,  col: 1, row: 1, color: gold,   sigma: sigmaEztaox[1]}
];

// frame geometry for each column / row
var colX = [[113, 609], [760, 1249]];
var rowY = [[[47, 299], [317, 571]], [[46, 300], [319, 574]]];

var svg = d3.select("svg");
var xDomain = [-0.11, 10.2];
var xMinor = d3.range(0, 10.01, 0.5).filter(function(v) { return v % 2 !== 0; });

panels.forEach(function(p, i) {
  var xr = colX[p.col], yr = rowY[p.col][p.row];
  var x = d3.scaleLinear().domain(xDomain).range(xr);
  var yDom = p.row === 0 ? [-11, 11] : [-6, 6];
  var y = d3.scaleLinear().domain(yDom).range([yr[1], yr[0]]);
  var yMajor = p.row === 0 ? yTicks3 : yTicks10;
  var yMinor = p.row === 0
    ? d3.range(-10, 11, 1).filter(function(v) { return v % 5 !== 0; })
    : d3.range(-5.5, 5.51, 0.5).filter(function(v) { return Math.abs(v % 2.5) > 1e-9; });
  var yFmt = p.row === 0 ? d3.format("d") : d3.format(".1f");

  var g = svg.append("g");

  g.append("clipPath").attr("id", "clip" + i)
    .append("rect").attr("x", xr[0]).attr("y", yr[0])
    .attr("width", xr[1] - xr[0]).attr("height", yr[1] - yr[0]);

  g.append("g").attr("clip-path", "url(#clip" + i + ")")
    .selectAll("circle").data(p.data).enter().append("circle")
    .attr("cx", function(d) { return x(d[0]); })
    .attr("cy", function(d) { return y(d[1]); })
    .attr("r", 2.2)
    .style("fill", p.color);

  function axis(gen, tr) {
    var a = g.append("g").attr("transform", tr).call(gen);
    a.select(".domain").remove();
    a.selectAll(".tick text")
      .style("font-family", "'Liberation Serif', serif")
      .style("font-size", "21px")
      .style("fill", "#000");
    return a;
  }
  axis(d3.axisBottom(x).tickValues(xTicks).tickSize(-7).tickPadding(11)
        .tickFormat(p.row === 1 ? d3.format("d") : ""), "translate(0," + yr[1] + ")");
  axis(d3.axisBottom(x).tickValues(xMinor).tickSize(-3.5).tickFormat(""), "translate(0," + yr[1] + ")");
  axis(d3.axisTop(x).tickValues(xTicks).tickSize(-7).tickFormat(""), "translate(0," + yr[0] + ")");
  axis(d3.axisTop(x).tickValues(xMinor).tickSize(-3.5).tickFormat(""), "translate(0," + yr[0] + ")");
  axis(d3.axisLeft(y).tickValues(yMajor).tickSize(-7).tickPadding(10).tickFormat(yFmt), "translate(" + xr[0] + ",0)");
  axis(d3.axisLeft(y).tickValues(yMinor).tickSize(-3.5).tickFormat(""), "translate(" + xr[0] + ",0)");
  axis(d3.axisRight(y).tickValues(yMajor).tickSize(-7).tickFormat(""), "translate(" + xr[1] + ",0)");
  axis(d3.axisRight(y).tickValues(yMinor).tickSize(-3.5).tickFormat(""), "translate(" + xr[1] + ",0)");

  g.append("rect")
    .attr("x", xr[0]).attr("y", yr[0])
    .attr("width", xr[1] - xr[0]).attr("height", yr[1] - yr[0])
    .style("fill", "none").style("stroke", "#000").style("stroke-width", 2);

  // sigma_MAD annotation box
  var bx = xr[0] + 13, by = yr[0] + 10;
  g.append("rect").attr("x", bx).attr("y", by).attr("width", 145).attr("height", 33)
    .attr("rx", 4).style("fill", "#fff").style("stroke", "#000").style("stroke-width", 1.3);
  var t = g.append("text").attr("y", by + 24);
  t.append("tspan").attr("x", bx + 6).style("font", "italic 25px 'Liberation Serif', serif").text("σ");
  t.append("tspan").attr("x", bx + 21).attr("dy", 3).style("font", "17px 'Liberation Serif', serif").text("MAD");
  t.append("tspan").attr("x", bx + 71).attr("dy", -3).style("font", "24px 'Liberation Serif', serif").text("=");
  t.append("tspan").attr("x", bx + 96).style("font", "23px Lato, sans-serif").text(p.sigma);
});

// titles and axis labels
methods.forEach(function(m, c) {
  var cx = (colX[c][0] + colX[c][1]) / 2;
  svg.append("text").attr("class", "title").attr("x", cx).attr("y", 32).text(m);
  svg.append("text").attr("class", "label").attr("x", cx).attr("y", 631).text("True Lag [day]");
  var lx = c === 0 ? 34 : 680;
  svg.append("text").attr("class", "label")
    .attr("transform", "translate(" + lx + ",302) rotate(-90)").text("ΔLag [day]");
});

baselines.forEach(function(b, r) {
  var yr = rowY[1][r];
  svg.append("text").attr("class", "label")
    .attr("transform", "translate(1284," + (yr[0] + yr[1]) / 2 + ") rotate(-90)").text(b);
});
</script>
